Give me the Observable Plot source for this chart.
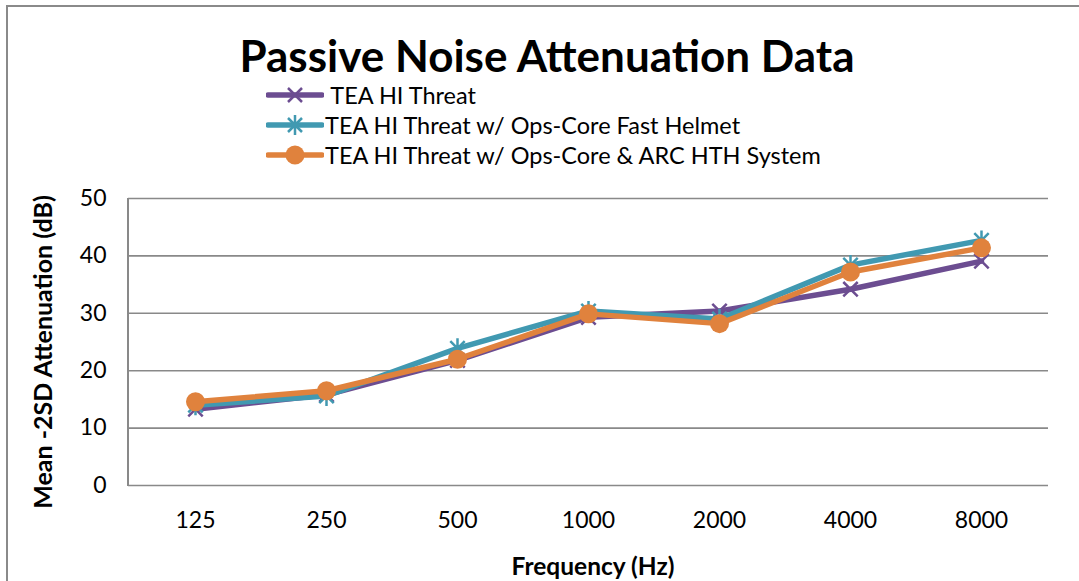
<!DOCTYPE html>
<html><head><meta charset="utf-8">
<script src="https://cdn.jsdelivr.net/npm/d3@7"></script>
<script src="https://cdn.jsdelivr.net/npm/@observablehq/plot@0.6"></script>
<style>
body{margin:0;background:#fff;}
#wrap{position:relative;width:1079px;height:581px;overflow:hidden;font-family:Lato,"Open Sans",sans-serif;color:#000;}
#title{position:absolute;left:0;width:1094px;top:29px;text-align:center;font-weight:bold;font-size:44px;}
#legend{position:absolute;left:266px;top:80px;font-size:23.5px;}
.row{height:30px;display:flex;align-items:center;}
.row svg{margin-right:1px;}
#ylab{position:absolute;left:42px;top:352px;transform:translate(-50%,-50%) rotate(-90deg);font-weight:bold;font-size:25px;white-space:nowrap;}
#xlab{position:absolute;left:593px;top:565px;transform:translate(-50%,-50%);font-weight:bold;font-size:24.5px;white-space:nowrap;}
#bTop{position:absolute;left:7px;top:5px;width:1100px;height:2px;background:#8a8a8a;}
#bLeft{position:absolute;left:6px;top:5px;width:2px;height:600px;background:#8a8a8a;}
#chart{position:absolute;left:0;top:0;}
</style></head>
<body><div id="wrap">
<div id="bTop"></div><div id="bLeft"></div>
<div id="chart"></div>
<div id="title">Passive Noise Attenuation Data</div>
<div id="legend"></div>
<div id="ylab">Mean -2SD Attenuation (dB)</div>
<div id="xlab">Frequency (Hz)</div>
</div>
<script>
const frequencies = ["125","250","500","1000","2000","4000","8000"];
const seriesNames = ["TEA HI Threat","TEA HI Threat w/ Ops-Core Fast Helmet","TEA HI Threat w/ Ops-Core & ARC HTH System"];
const teaHiThreat = [13.3, 15.8, 21.8, 29.3, 30.4, 34.2, 39.1];
const withFastHelmet = [14.0, 15.6, 23.9, 30.4, 29.0, 38.4, 42.7];
const withArcHth = [14.6, 16.5, 22.0, 29.9, 28.2, 37.2, 41.4];
const yTicks = [0,10,20,30,40,50];
const colors = ["#6c4d91","#4199b1","#e0823d"];

const timesSym = {draw(ctx, size){ const r = Math.sqrt(size/Math.PI); const a = r*0.72;
  ctx.moveTo(-a,-a); ctx.lineTo(a,a); ctx.moveTo(-a,a); ctx.lineTo(a,-a);}};
const starSym = {draw(ctx, size){ const r = Math.sqrt(size/Math.PI); const a = r*0.72;
  ctx.moveTo(-a,-a); ctx.lineTo(a,a); ctx.moveTo(-a,a); ctx.lineTo(a,-a); ctx.moveTo(0,-r); ctx.lineTo(0,r);}};

const allSeries = [teaHiThreat, withFastHelmet, withArcHth];
const rows = [];
allSeries.forEach((vals, s) => vals.forEach((v, i) => rows.push({series: seriesNames[s], s, freq: frequencies[i], value: v})));

const marks = [
  Plot.ruleY(yTicks, {stroke:"#898989", strokeWidth:1.6}),
  Plot.axisY({ticks: yTicks, tickSize:0, tickPadding:22, fontSize:23}),
  Plot.axisX({tickSize:0, tickPadding:26, fontSize:23})
];
[0,1,2].forEach(s => {
  const d = rows.filter(r => r.s === s);
  marks.push(Plot.line(d, {x:"freq", y:"value", stroke:colors[s], strokeWidth:5.5, strokeLinejoin:"round"}));
  if (s === 0) marks.push(Plot.dot(d, {x:"freq", y:"value", symbol:timesSym, r:10, stroke:colors[s], strokeWidth:2.5}));
  if (s === 1) marks.push(Plot.dot(d, {x:"freq", y:"value", symbol:starSym, r:10, stroke:colors[s], strokeWidth:2.5}));
  if (s === 2) marks.push(Plot.dot(d, {x:"freq", y:"value", r:9.5, fill:colors[s], stroke:"none"}));
});

const chart = Plot.plot({
  width:1079, height:581,
  marginLeft:128, marginRight:31, marginTop:198, marginBottom:96,
  style:{fontFamily:"Lato, 'Open Sans', sans-serif", fontSize:"23px", background:"transparent", color:"#000"},
  x:{type:"point", domain:frequencies, padding:0.5, label:null},
  y:{domain:[0,50], label:null},
  marks
});
document.getElementById("chart").appendChild(chart);

const svgNS = "http://www.w3.org/2000/svg";
const leg = document.getElementById("legend");
seriesNames.forEach((name, s) => {
  const row = document.createElement("div"); row.className = "row";
  const sw = document.createElementNS(svgNS, "svg"); sw.setAttribute("width", 58); sw.setAttribute("height", 30);
  let inner = `<line x1="2" x2="56" y1="15" y2="15" stroke="${colors[s]}" stroke-width="5.5" stroke-linecap="round"/>`;
  if (s === 0) inner += `<path d="M22,8L36,22M22,22L36,8" stroke="${colors[s]}" stroke-width="2.5"/>`;
  if (s === 1) inner += `<path d="M22,8L36,22M22,22L36,8M29,5L29,25" stroke="${colors[s]}" stroke-width="2.5"/>`;
  if (s === 2) inner += `<circle cx="29" cy="15" r="9.5" fill="${colors[s]}"/>`;
  sw.innerHTML = inner;
  row.appendChild(sw);
  const t = document.createElement("span"); t.textContent = (s === 0 ? "\u00a0" : "") + name;
  row.appendChild(t);
  leg.appendChild(row);
});
const axisLine = document.createElement("div");
axisLine.style.cssText = "position:absolute;left:127px;top:198px;width:2px;height:288px;background:#898989;";
document.getElementById("wrap").appendChild(axisLine);
</script>
</body></html>
